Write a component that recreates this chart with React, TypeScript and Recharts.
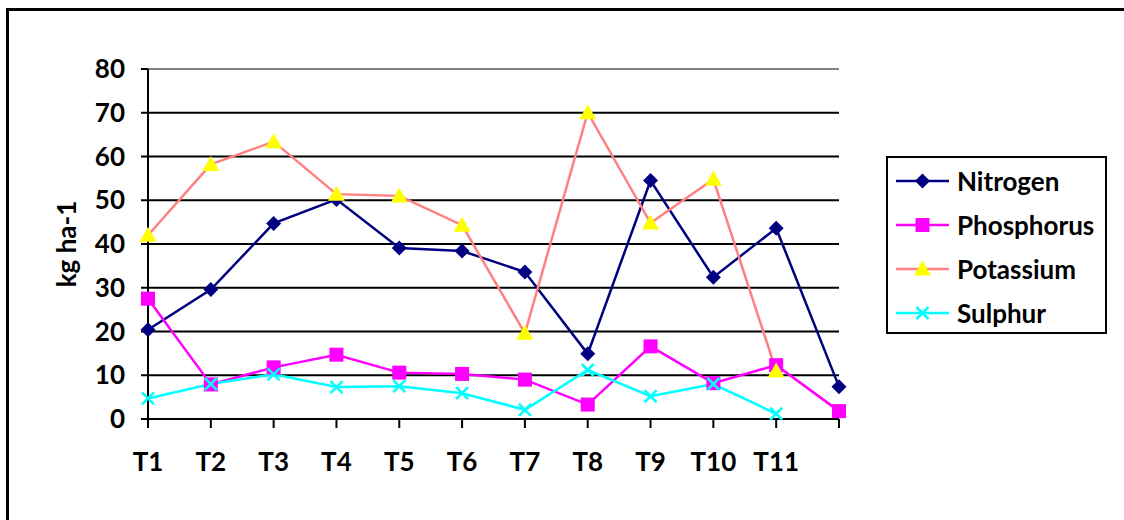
import React from 'react';
import { LineChart, Line, XAxis, YAxis, CartesianGrid, Legend, ReferenceLine } from 'recharts';

const categories = ['T1', 'T2', 'T3', 'T4', 'T5', 'T6', 'T7', 'T8', 'T9', 'T10', 'T11', ''];
const nitrogen = [20.4, 29.6, 44.7, 50.2, 39.1, 38.4, 33.6, 14.9, 54.5, 32.4, 43.6, 7.4];
const phosphorus = [27.5, 7.9, 11.8, 14.7, 10.6, 10.3, 9.0, 3.3, 16.6, 8.2, 12.3, 1.8];
const potassium = [42.0, 58.2, 63.4, 51.4, 51.0, 44.3, 19.6, 70.0, 44.8, 54.8, 11.0, null];
const sulphur = [4.7, 8.0, 10.2, 7.3, 7.5, 5.9, 2.1, 11.2, 5.2, 8.0, 1.2, null];
const yTicks = [0, 10, 20, 30, 40, 50, 60, 70, 80];

const FONT = 'Lato, "Liberation Sans", Arial, sans-serif';
const FONT_SIZE = 26;

const data = categories.map((cat, i) => ({
  cat,
  Nitrogen: nitrogen[i],
  Phosphorus: phosphorus[i],
  Potassium: potassium[i],
  Sulphur: sulphur[i],
}));

type MarkerKind = 'diamond' | 'square' | 'triangle' | 'cross';

function Marker({ kind, x, y }: { kind: MarkerKind; x: number; y: number }) {
  if (kind === 'diamond') {
    const r = 7.5;
    return <polygon points={`${x},${y - r} ${x + r},${y} ${x},${y + r} ${x - r},${y}`} fill="#000080" />;
  }
  if (kind === 'square') {
    return <rect x={x - 7} y={y - 7} width={14} height={14} fill="#FF00FF" />;
  }
  if (kind === 'triangle') {
    return <polygon points={`${x},${y - 8.5} ${x + 8.5},${y + 6.5} ${x - 8.5},${y + 6.5}`} fill="#FFFF00" />;
  }
  const r = 6;
  return (
    <g stroke="#00FFFF" strokeWidth={2.5}>
      <line x1={x - r} y1={y - r} x2={x + r} y2={y + r} />
      <line x1={x - r} y1={y + r} x2={x + r} y2={y - r} />
    </g>
  );
}

const dotFor = (kind: MarkerKind) => (props: any) => {
  const { cx, cy, index } = props;
  if (cx == null || cy == null || props.value == null) return <g key={`${kind}-${index}`} />;
  return (
    <g key={`${kind}-${index}`}>
      <Marker kind={kind} x={cx} y={cy} />
    </g>
  );
};

const series: { key: string; stroke: string; marker: MarkerKind }[] = [
  { key: 'Nitrogen', stroke: '#000080', marker: 'diamond' },
  { key: 'Phosphorus', stroke: '#FF00FF', marker: 'square' },
  { key: 'Potassium', stroke: '#FF8080', marker: 'triangle' },
  { key: 'Sulphur', stroke: '#00FFFF', marker: 'cross' },
];

function LegendBox() {
  return (
    <div
      style={{
        width: 217,
        height: 173,
        border: '2px solid #000',
        background: '#fff',
        paddingTop: 1,
        boxSizing: 'content-box',
      }}
    >
      {series.map((s) => (
        <div key={s.key} style={{ height: 44, display: 'flex', alignItems: 'center', paddingLeft: 8 }}>
          <svg width={53} height={20} style={{ flex: 'none' }}>
            <line x1={0} y1={10} x2={53} y2={10} stroke={s.stroke} strokeWidth={2.5} />
            <Marker kind={s.marker} x={26.5} y={10} />
          </svg>
          <span
            style={{
              marginLeft: 8,
              fontFamily: FONT,
              fontWeight: 700,
              fontSize: FONT_SIZE,
              color: '#000',
              lineHeight: 1,
            }}
          >
            {s.key}
          </span>
        </div>
      ))}
    </div>
  );
}

const tickStyle = { fontFamily: FONT, fontWeight: 700, fontSize: FONT_SIZE, fill: '#000' };

export default function App() {
  return (
    <div
      style={{
        position: 'fixed',
        left: 0,
        top: 0,
        width: 1124,
        height: 520,
        overflow: 'hidden',
        background: '#fff',
      }}
    >
      <div
        style={{
          position: 'absolute',
          left: 6,
          top: 8,
          width: 1300,
          height: 700,
          borderTop: '3px solid #000',
          borderLeft: '3px solid #000',
        }}
      />
      <div style={{ position: 'absolute', left: 0, top: 0 }}>
        <LineChart width={1124} height={520} data={data} margin={{ top: 69, right: 285, bottom: 41, left: 0 }}>
          <CartesianGrid vertical={false} stroke="#000" strokeWidth={2} />
          <XAxis
            dataKey="cat"
            height={60}
            tick={tickStyle}
            tickSize={9}
            tickMargin={25}
            axisLine={{ stroke: '#000', strokeWidth: 2 }}
            tickLine={{ stroke: '#000', strokeWidth: 2 }}
            interval={0}
          />
          <YAxis
            width={148}
            domain={[0, 80]}
            ticks={yTicks}
            tick={tickStyle}
            tickSize={7}
            tickMargin={16}
            axisLine={{ stroke: '#000', strokeWidth: 2 }}
            tickLine={{ stroke: '#000', strokeWidth: 2 }}
            label={{
              value: 'kg ha-1',
              angle: -90,
              position: 'center',
              dx: -7,
              style: { fontFamily: FONT, fontWeight: 700, fontSize: FONT_SIZE, fill: '#000' },
            }}
          />
          <YAxis
            yAxisId="frame"
            orientation="right"
            width={0}
            domain={[0, 80]}
            tick={false}
            tickLine={false}
            axisLine={{ stroke: '#808080', strokeWidth: 2 }}
          />
          <ReferenceLine y={80} stroke="#808080" strokeWidth={2} />
          {series.map((s) => (
            <Line
              key={s.key}
              dataKey={s.key}
              stroke={s.stroke}
              strokeWidth={2.5}
              dot={dotFor(s.marker)}
              activeDot={false}
              isAnimationActive={false}
            />
          ))}
          <Legend
            layout="vertical"
            align="center"
            verticalAlign="middle"
            wrapperStyle={{ left: 886, top: 156, width: 221, height: 177 }}
            content={() => <LegendBox />}
          />
        </LineChart>
      </div>
    </div>
  );
}
